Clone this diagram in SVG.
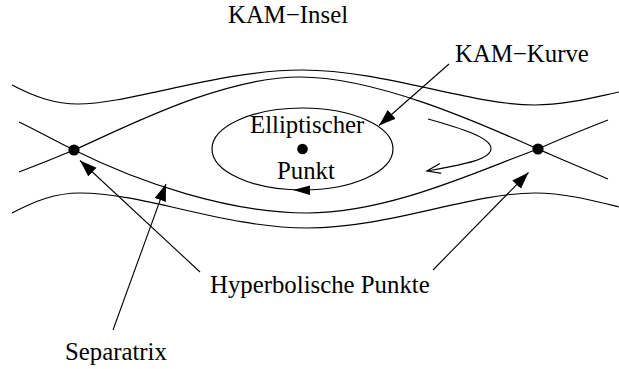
<svg xmlns="http://www.w3.org/2000/svg" width="619" height="369" viewBox="0 0 619 369">
<style>
.c{fill:none;stroke:#000;stroke-width:1.2}
.a{fill:none;stroke:#000;stroke-width:1.1}
.t{font-family:"Liberation Serif","Times New Roman",serif;font-size:24.8px;fill:#000}
.d{fill:#000}
</style>
<defs>
<marker id="fh" markerUnits="userSpaceOnUse" markerWidth="18" markerHeight="14" refX="17" refY="6" orient="auto" viewBox="0 0 18 14">
<path d="M0,0 L17,6 L0,12 z" fill="#000"/>
</marker>
<marker id="oh" markerUnits="userSpaceOnUse" markerWidth="18" markerHeight="12" refX="15" refY="5" orient="auto" viewBox="0 0 18 12">
<path d="M1,0 L15,5 L1,10" fill="none" stroke="#000" stroke-width="1.2"/>
</marker>
</defs>
<g id="curves">
<path class="c" d="M12,85 C35,97 55,104 78,104 C130,104 220,70 302,70 C385,70 470,105 535,105 C565,105 595,97 619,92"/>
<path class="c" d="M19,172 C40,164 55,158 74,150 C120,130 220,77 300,77 C380,77 490,128 538,149 C560,139 585,129 608,120"/>
<path class="c" d="M19,122 C40,132 55,141 74,150 C140,183 230,213 307,213 C390,213 480,170 538,149 C560,159 585,169 608,179"/>
<path class="c" d="M12,213 C35,201 55,193 80,193 C145,193 225,228 307,228 C390,228 470,193 535,193 C565,193 595,201 619,207"/>
</g>
<g id="ellipse">
<ellipse class="c" cx="302.5" cy="149" rx="90.5" ry="41"/>
<polygon class="d" points="293,190 310,185.5 310,195"/>
<circle class="d" cx="302.5" cy="149" r="5.3"/>
<text class="t" x="250" y="133">Elliptischer</text>
<text class="t" x="277" y="179">Punkt</text>
</g>
<g id="hyp-left"><circle class="d" cx="74" cy="150" r="5.6"/></g>
<g id="hyp-right"><circle class="d" cx="538" cy="149" r="5.6"/></g>
<g id="flow">
<path class="a" d="M428,119 C460,128 490,137 491,148 C492,160 460,165 427,171" marker-end="url(#oh)"/>
</g>
<g id="labels">
<text class="t" x="228" y="23">KAM−Insel</text>
<text class="t" x="455" y="62">KAM−Kurve</text>
<text class="t" x="210" y="293">Hyperbolische Punkte</text>
<text class="t" x="65" y="360">Separatrix</text>
</g>
<g id="connectors">
<line class="a" x1="449" y1="64" x2="379" y2="125.5" marker-end="url(#fh)"/>
<line class="a" x1="200" y1="272" x2="80" y2="160.5" marker-end="url(#fh)"/>
<line class="a" x1="433" y1="270" x2="528.5" y2="172.5" marker-end="url(#fh)"/>
<line class="a" x1="113" y1="330" x2="166" y2="184" marker-end="url(#fh)"/>
</g>
</svg>
